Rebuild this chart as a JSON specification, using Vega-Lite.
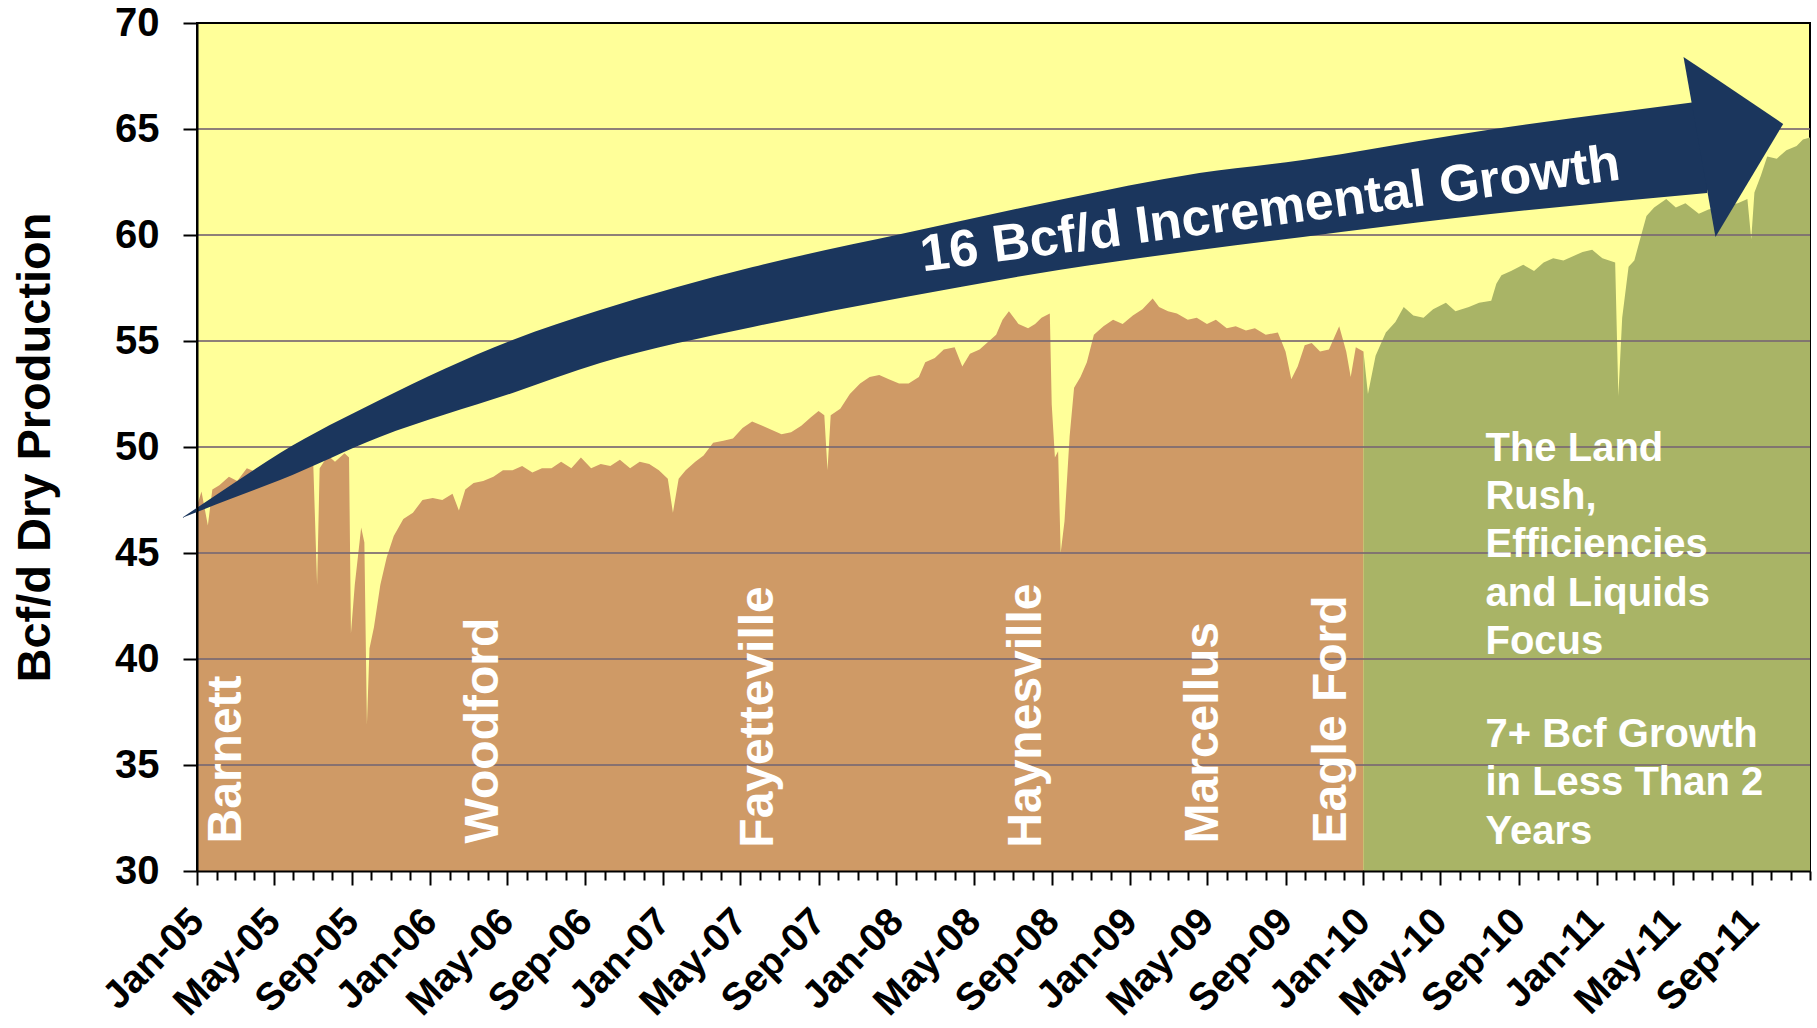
{
  "$schema": "https://vega.github.io/schema/vega-lite/v6.json",
  "width": 1613,
  "height": 848,
  "autosize": "none",
  "padding": {"left": 197, "top": 23, "right": 7, "bottom": 157},
  "background": "white",
  "config": {
    "font": "Liberation Sans, Arial, sans-serif",
    "view": {"fill": "#FFFF99", "stroke": "black", "strokeWidth": 2}
  },
  "datasets": {
    "series": [
      {"d": "2005-01-01", "v": 47.2, "p": "pre"},
      {"d": "2005-01-08", "v": 47.9, "p": "pre"},
      {"d": "2005-01-18", "v": 46.3, "p": "pre"},
      {"d": "2005-01-25", "v": 48.0, "p": "pre"},
      {"d": "2005-02-05", "v": 48.2, "p": "pre"},
      {"d": "2005-02-20", "v": 48.6, "p": "pre"},
      {"d": "2005-03-05", "v": 48.4, "p": "pre"},
      {"d": "2005-03-20", "v": 49.0, "p": "pre"},
      {"d": "2005-04-05", "v": 48.8, "p": "pre"},
      {"d": "2005-04-20", "v": 49.1, "p": "pre"},
      {"d": "2005-05-05", "v": 49.3, "p": "pre"},
      {"d": "2005-05-20", "v": 49.0, "p": "pre"},
      {"d": "2005-06-05", "v": 49.4, "p": "pre"},
      {"d": "2005-06-20", "v": 49.6, "p": "pre"},
      {"d": "2005-07-02", "v": 49.2, "p": "pre"},
      {"d": "2005-07-08", "v": 43.5, "p": "pre"},
      {"d": "2005-07-12", "v": 49.0, "p": "pre"},
      {"d": "2005-07-25", "v": 49.6, "p": "pre"},
      {"d": "2005-08-05", "v": 49.3, "p": "pre"},
      {"d": "2005-08-20", "v": 49.7, "p": "pre"},
      {"d": "2005-08-27", "v": 49.5, "p": "pre"},
      {"d": "2005-08-30", "v": 41.2, "p": "pre"},
      {"d": "2005-09-05", "v": 43.5, "p": "pre"},
      {"d": "2005-09-15", "v": 46.2, "p": "pre"},
      {"d": "2005-09-20", "v": 45.5, "p": "pre"},
      {"d": "2005-09-24", "v": 36.9, "p": "pre"},
      {"d": "2005-09-28", "v": 40.5, "p": "pre"},
      {"d": "2005-10-05", "v": 41.5, "p": "pre"},
      {"d": "2005-10-15", "v": 43.5, "p": "pre"},
      {"d": "2005-10-25", "v": 44.8, "p": "pre"},
      {"d": "2005-11-05", "v": 45.8, "p": "pre"},
      {"d": "2005-11-20", "v": 46.6, "p": "pre"},
      {"d": "2005-12-05", "v": 46.9, "p": "pre"},
      {"d": "2005-12-20", "v": 47.5, "p": "pre"},
      {"d": "2006-01-05", "v": 47.6, "p": "pre"},
      {"d": "2006-01-20", "v": 47.5, "p": "pre"},
      {"d": "2006-02-05", "v": 47.8, "p": "pre"},
      {"d": "2006-02-15", "v": 47.0, "p": "pre"},
      {"d": "2006-02-25", "v": 48.0, "p": "pre"},
      {"d": "2006-03-10", "v": 48.3, "p": "pre"},
      {"d": "2006-03-25", "v": 48.4, "p": "pre"},
      {"d": "2006-04-10", "v": 48.6, "p": "pre"},
      {"d": "2006-04-25", "v": 48.9, "p": "pre"},
      {"d": "2006-05-10", "v": 48.9, "p": "pre"},
      {"d": "2006-05-25", "v": 49.1, "p": "pre"},
      {"d": "2006-06-10", "v": 48.8, "p": "pre"},
      {"d": "2006-06-25", "v": 49.0, "p": "pre"},
      {"d": "2006-07-10", "v": 49.0, "p": "pre"},
      {"d": "2006-07-25", "v": 49.3, "p": "pre"},
      {"d": "2006-08-10", "v": 49.0, "p": "pre"},
      {"d": "2006-08-25", "v": 49.5, "p": "pre"},
      {"d": "2006-09-10", "v": 49.0, "p": "pre"},
      {"d": "2006-09-25", "v": 49.2, "p": "pre"},
      {"d": "2006-10-10", "v": 49.1, "p": "pre"},
      {"d": "2006-10-25", "v": 49.4, "p": "pre"},
      {"d": "2006-11-10", "v": 49.0, "p": "pre"},
      {"d": "2006-11-25", "v": 49.3, "p": "pre"},
      {"d": "2006-12-10", "v": 49.2, "p": "pre"},
      {"d": "2006-12-25", "v": 48.9, "p": "pre"},
      {"d": "2007-01-08", "v": 48.5, "p": "pre"},
      {"d": "2007-01-16", "v": 46.9, "p": "pre"},
      {"d": "2007-01-25", "v": 48.5, "p": "pre"},
      {"d": "2007-02-05", "v": 48.9, "p": "pre"},
      {"d": "2007-02-20", "v": 49.3, "p": "pre"},
      {"d": "2007-03-05", "v": 49.6, "p": "pre"},
      {"d": "2007-03-20", "v": 50.2, "p": "pre"},
      {"d": "2007-04-05", "v": 50.3, "p": "pre"},
      {"d": "2007-04-20", "v": 50.4, "p": "pre"},
      {"d": "2007-05-05", "v": 50.9, "p": "pre"},
      {"d": "2007-05-20", "v": 51.2, "p": "pre"},
      {"d": "2007-06-05", "v": 51.0, "p": "pre"},
      {"d": "2007-06-20", "v": 50.8, "p": "pre"},
      {"d": "2007-07-05", "v": 50.6, "p": "pre"},
      {"d": "2007-07-20", "v": 50.7, "p": "pre"},
      {"d": "2007-08-05", "v": 51.0, "p": "pre"},
      {"d": "2007-08-20", "v": 51.4, "p": "pre"},
      {"d": "2007-09-01", "v": 51.7, "p": "pre"},
      {"d": "2007-09-10", "v": 51.5, "p": "pre"},
      {"d": "2007-09-15", "v": 48.9, "p": "pre"},
      {"d": "2007-09-20", "v": 51.5, "p": "pre"},
      {"d": "2007-10-05", "v": 51.8, "p": "pre"},
      {"d": "2007-10-20", "v": 52.5, "p": "pre"},
      {"d": "2007-11-05", "v": 53.0, "p": "pre"},
      {"d": "2007-11-20", "v": 53.3, "p": "pre"},
      {"d": "2007-12-05", "v": 53.4, "p": "pre"},
      {"d": "2007-12-20", "v": 53.2, "p": "pre"},
      {"d": "2008-01-05", "v": 53.0, "p": "pre"},
      {"d": "2008-01-20", "v": 53.0, "p": "pre"},
      {"d": "2008-02-05", "v": 53.3, "p": "pre"},
      {"d": "2008-02-15", "v": 54.0, "p": "pre"},
      {"d": "2008-03-01", "v": 54.2, "p": "pre"},
      {"d": "2008-03-15", "v": 54.6, "p": "pre"},
      {"d": "2008-04-01", "v": 54.7, "p": "pre"},
      {"d": "2008-04-13", "v": 53.8, "p": "pre"},
      {"d": "2008-04-25", "v": 54.4, "p": "pre"},
      {"d": "2008-05-10", "v": 54.6, "p": "pre"},
      {"d": "2008-05-25", "v": 55.0, "p": "pre"},
      {"d": "2008-06-05", "v": 55.3, "p": "pre"},
      {"d": "2008-06-15", "v": 56.0, "p": "pre"},
      {"d": "2008-06-25", "v": 56.4, "p": "pre"},
      {"d": "2008-07-10", "v": 55.8, "p": "pre"},
      {"d": "2008-07-25", "v": 55.6, "p": "pre"},
      {"d": "2008-08-05", "v": 55.8, "p": "pre"},
      {"d": "2008-08-15", "v": 56.1, "p": "pre"},
      {"d": "2008-08-28", "v": 56.3, "p": "pre"},
      {"d": "2008-08-31", "v": 52.0, "p": "pre"},
      {"d": "2008-09-05", "v": 49.5, "p": "pre"},
      {"d": "2008-09-10", "v": 49.8, "p": "pre"},
      {"d": "2008-09-14", "v": 45.0, "p": "pre"},
      {"d": "2008-09-20", "v": 46.5, "p": "pre"},
      {"d": "2008-09-28", "v": 50.5, "p": "pre"},
      {"d": "2008-10-05", "v": 52.8, "p": "pre"},
      {"d": "2008-10-15", "v": 53.3, "p": "pre"},
      {"d": "2008-10-25", "v": 54.0, "p": "pre"},
      {"d": "2008-11-05", "v": 55.3, "p": "pre"},
      {"d": "2008-11-20", "v": 55.7, "p": "pre"},
      {"d": "2008-12-05", "v": 56.0, "p": "pre"},
      {"d": "2008-12-20", "v": 55.8, "p": "pre"},
      {"d": "2009-01-05", "v": 56.2, "p": "pre"},
      {"d": "2009-01-20", "v": 56.5, "p": "pre"},
      {"d": "2009-02-05", "v": 57.0, "p": "pre"},
      {"d": "2009-02-15", "v": 56.6, "p": "pre"},
      {"d": "2009-03-01", "v": 56.4, "p": "pre"},
      {"d": "2009-03-15", "v": 56.3, "p": "pre"},
      {"d": "2009-04-01", "v": 56.0, "p": "pre"},
      {"d": "2009-04-15", "v": 56.1, "p": "pre"},
      {"d": "2009-05-01", "v": 55.8, "p": "pre"},
      {"d": "2009-05-15", "v": 56.0, "p": "pre"},
      {"d": "2009-06-01", "v": 55.6, "p": "pre"},
      {"d": "2009-06-15", "v": 55.7, "p": "pre"},
      {"d": "2009-07-01", "v": 55.5, "p": "pre"},
      {"d": "2009-07-15", "v": 55.6, "p": "pre"},
      {"d": "2009-08-01", "v": 55.3, "p": "pre"},
      {"d": "2009-08-20", "v": 55.4, "p": "pre"},
      {"d": "2009-09-01", "v": 54.5, "p": "pre"},
      {"d": "2009-09-10", "v": 53.2, "p": "pre"},
      {"d": "2009-09-20", "v": 53.8, "p": "pre"},
      {"d": "2009-10-01", "v": 54.8, "p": "pre"},
      {"d": "2009-10-12", "v": 54.9, "p": "pre"},
      {"d": "2009-10-25", "v": 54.5, "p": "pre"},
      {"d": "2009-11-08", "v": 54.6, "p": "pre"},
      {"d": "2009-11-24", "v": 55.7, "p": "pre"},
      {"d": "2009-12-05", "v": 54.5, "p": "pre"},
      {"d": "2009-12-12", "v": 53.3, "p": "pre"},
      {"d": "2009-12-20", "v": 54.7, "p": "pre"},
      {"d": "2010-01-01", "v": 54.5, "p": "pre"},
      {"d": "2010-01-01", "v": 54.5, "p": "post"},
      {"d": "2010-01-08", "v": 52.5, "p": "post"},
      {"d": "2010-01-20", "v": 54.3, "p": "post"},
      {"d": "2010-02-05", "v": 55.4, "p": "post"},
      {"d": "2010-02-20", "v": 55.9, "p": "post"},
      {"d": "2010-03-05", "v": 56.6, "p": "post"},
      {"d": "2010-03-20", "v": 56.2, "p": "post"},
      {"d": "2010-04-05", "v": 56.1, "p": "post"},
      {"d": "2010-04-20", "v": 56.5, "p": "post"},
      {"d": "2010-05-10", "v": 56.8, "p": "post"},
      {"d": "2010-05-25", "v": 56.4, "p": "post"},
      {"d": "2010-06-15", "v": 56.6, "p": "post"},
      {"d": "2010-07-01", "v": 56.8, "p": "post"},
      {"d": "2010-07-20", "v": 56.9, "p": "post"},
      {"d": "2010-07-28", "v": 57.7, "p": "post"},
      {"d": "2010-08-05", "v": 58.1, "p": "post"},
      {"d": "2010-08-20", "v": 58.3, "p": "post"},
      {"d": "2010-09-08", "v": 58.6, "p": "post"},
      {"d": "2010-09-25", "v": 58.3, "p": "post"},
      {"d": "2010-10-10", "v": 58.7, "p": "post"},
      {"d": "2010-10-25", "v": 58.9, "p": "post"},
      {"d": "2010-11-10", "v": 58.8, "p": "post"},
      {"d": "2010-11-25", "v": 59.0, "p": "post"},
      {"d": "2010-12-10", "v": 59.2, "p": "post"},
      {"d": "2010-12-25", "v": 59.3, "p": "post"},
      {"d": "2011-01-10", "v": 58.9, "p": "post"},
      {"d": "2011-01-30", "v": 58.7, "p": "post"},
      {"d": "2011-02-04", "v": 52.4, "p": "post"},
      {"d": "2011-02-10", "v": 56.1, "p": "post"},
      {"d": "2011-02-20", "v": 58.5, "p": "post"},
      {"d": "2011-03-01", "v": 58.8, "p": "post"},
      {"d": "2011-03-10", "v": 59.8, "p": "post"},
      {"d": "2011-03-20", "v": 60.9, "p": "post"},
      {"d": "2011-04-01", "v": 61.3, "p": "post"},
      {"d": "2011-04-20", "v": 61.7, "p": "post"},
      {"d": "2011-05-05", "v": 61.3, "p": "post"},
      {"d": "2011-05-20", "v": 61.5, "p": "post"},
      {"d": "2011-06-10", "v": 61.0, "p": "post"},
      {"d": "2011-06-25", "v": 61.2, "p": "post"},
      {"d": "2011-07-10", "v": 61.3, "p": "post"},
      {"d": "2011-07-25", "v": 61.4, "p": "post"},
      {"d": "2011-08-10", "v": 61.5, "p": "post"},
      {"d": "2011-08-25", "v": 61.7, "p": "post"},
      {"d": "2011-08-31", "v": 59.8, "p": "post"},
      {"d": "2011-09-05", "v": 62.0, "p": "post"},
      {"d": "2011-09-15", "v": 62.8, "p": "post"},
      {"d": "2011-09-25", "v": 63.7, "p": "post"},
      {"d": "2011-10-10", "v": 63.6, "p": "post"},
      {"d": "2011-10-25", "v": 64.0, "p": "post"},
      {"d": "2011-11-10", "v": 64.2, "p": "post"},
      {"d": "2011-11-20", "v": 64.5, "p": "post"},
      {"d": "2011-12-01", "v": 64.6, "p": "post"}
    ],
    "grid": [{"g": 35}, {"g": 40}, {"g": 45}, {"g": 50}, {"g": 55}, {"g": 60}, {"g": 65}],
    "shaft": [
      {"d": "2004-12-08", "top": 46.65, "bot": 46.65},
      {"d": "2005-02-21", "top": 48.16, "bot": 47.53},
      {"d": "2005-05-11", "top": 49.72, "bot": 48.44},
      {"d": "2005-10-14", "top": 52.22, "bot": 50.47},
      {"d": "2006-05-10", "top": 55.05, "bot": 52.55},
      {"d": "2006-09-24", "top": 56.46, "bot": 53.96},
      {"d": "2007-05-21", "top": 58.49, "bot": 55.66},
      {"d": "2008-01-15", "top": 60.09, "bot": 57.08},
      {"d": "2008-09-11", "top": 61.65, "bot": 58.35},
      {"d": "2009-04-19", "top": 62.92, "bot": 59.29},
      {"d": "2009-09-28", "top": 63.54, "bot": 59.91},
      {"d": "2010-05-25", "top": 64.72, "bot": 60.80},
      {"d": "2011-06-23", "top": 66.35, "bot": 61.98}
    ],
    "head": [
      {"d": "2011-05-17", "top": 68.40, "bot": 68.40},
      {"d": "2011-07-06", "top": 67.39, "bot": 59.91},
      {"d": "2011-10-20", "top": 65.24, "bot": 65.24}
    ],
    "plays": [
      {"name": "Barnett", "d": "2005-02-17", "v": 31.3},
      {"name": "Woodford", "d": "2006-03-26", "v": 31.3},
      {"name": "Fayetteville", "d": "2007-05-30", "v": 31.1},
      {"name": "Haynesville", "d": "2008-07-24", "v": 31.1},
      {"name": "Marcellus", "d": "2009-04-27", "v": 31.3},
      {"name": "Eagle Ford", "d": "2009-11-13", "v": 31.3}
    ],
    "arrowText": [{"t": "16 Bcf/d Incremental Growth", "d": "2009-08-08", "v": 61.2}],
    "note": [
      {"t": "The Land\nRush,\nEfficiencies\nand Liquids\nFocus", "d": "2010-07-11", "v": 49.35},
      {"t": "7+ Bcf Growth\nin Less Than 2\nYears", "d": "2010-07-11", "v": 35.85}
    ]
  },
  "layer": [
    {
      "data": {"name": "series"},
      "mark": {"type": "area", "interpolate": "linear"},
      "encoding": {
        "x": {
          "field": "d", "type": "temporal",
          "scale": {"type": "utc", "domain": ["2005-01-01", "2011-12-01"], "nice": false},
          "axis": {
            "title": null,
            "grid": false,
            "zindex": 1,
            "domainColor": "black",
            "domainWidth": 2,
            "tickColor": "black",
            "tickWidth": 2,
            "tickCount": {"interval": "month", "step": 1},
            "tickSize": {"condition": {"test": "utcmonth(datum.value) % 4 == 0", "value": 14}, "value": 9},
            "labelExpr": "utcmonth(datum.value) % 4 == 0 ? utcFormat(datum.value, '%b-%y') : ''",
            "labelAngle": -45,
            "labelAlign": "right",
            "labelBaseline": "middle",
            "labelPadding": 30,
            "labelFontSize": 39,
            "labelFontWeight": "bold",
            "labelColor": "black",
            "labelOverlap": false,
            "labelFlush": false,
            "labelBound": false
          }
        },
        "y": {
          "field": "v", "type": "quantitative",
          "stack": null,
          "scale": {"domain": [30, 70], "nice": false, "zero": false},
          "axis": {
            "values": [30, 35, 40, 45, 50, 55, 60, 65, 70],
            "grid": false,
            "zindex": 1,
            "domainColor": "black",
            "domainWidth": 2,
            "tickColor": "black",
            "tickWidth": 2,
            "tickSize": 14,
            "labelPadding": 24,
            "labelFontSize": 40,
            "labelFontWeight": "bold",
            "labelColor": "black",
            "labelFlush": false,
            "title": "Bcf/d Dry Production",
            "titleFontSize": 47,
            "titleFontWeight": "bold",
            "titleColor": "black",
            "titleAngle": 270,
            "titleAlign": "center",
            "titleBaseline": "middle",
            "titleX": -162,
            "titleY": 424
          }
        },
        "y2": {"datum": 30},
        "color": {
          "field": "p", "type": "nominal",
          "scale": {"domain": ["pre", "post"], "range": ["#CF9A66", "#A9B466"]},
          "legend": null
        }
      }
    },
    {
      "data": {"name": "grid"},
      "mark": {"type": "rule", "color": "#7A6A72", "strokeWidth": 2, "opacity": 0.85},
      "encoding": {"y": {"field": "g", "type": "quantitative"}}
    },
    {
      "data": {"name": "shaft"},
      "mark": {"type": "area", "color": "#1B365D", "interpolate": "monotone"},
      "encoding": {
        "x": {"field": "d", "type": "temporal"},
        "y": {"field": "top", "type": "quantitative"},
        "y2": {"field": "bot"}
      }
    },
    {
      "data": {"name": "head"},
      "mark": {"type": "area", "color": "#1B365D", "interpolate": "linear"},
      "encoding": {
        "x": {"field": "d", "type": "temporal"},
        "y": {"field": "top", "type": "quantitative"},
        "y2": {"field": "bot"}
      }
    },
    {
      "data": {"name": "arrowText"},
      "mark": {"type": "text", "color": "white", "fontSize": 52, "fontWeight": "bold", "angle": 352.5, "align": "center", "baseline": "middle"},
      "encoding": {
        "x": {"field": "d", "type": "temporal"},
        "y": {"field": "v", "type": "quantitative"},
        "text": {"field": "t"}
      }
    },
    {
      "data": {"name": "plays"},
      "mark": {"type": "text", "color": "white", "fontSize": 48, "fontWeight": "bold", "angle": 270, "align": "left", "baseline": "middle"},
      "encoding": {
        "x": {"field": "d", "type": "temporal"},
        "y": {"field": "v", "type": "quantitative"},
        "text": {"field": "name"}
      }
    },
    {
      "data": {"name": "note"},
      "mark": {"type": "text", "color": "white", "fontSize": 40, "fontWeight": "bold", "align": "left", "baseline": "alphabetic", "lineBreak": "\n", "lineHeight": 48.3},
      "encoding": {
        "x": {"field": "d", "type": "temporal"},
        "y": {"field": "v", "type": "quantitative"},
        "text": {"field": "t"}
      }
    }
  ]
}
